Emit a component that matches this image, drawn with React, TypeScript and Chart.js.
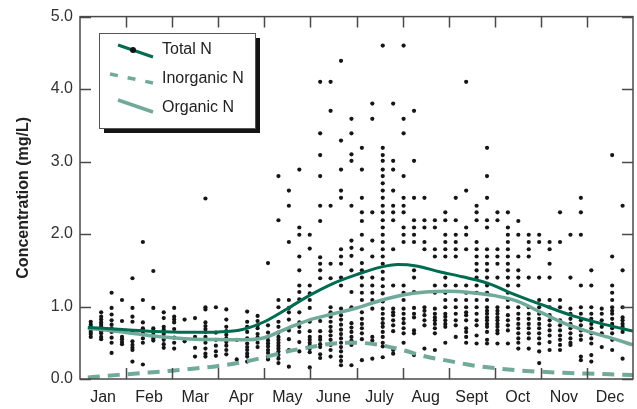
import React, { useEffect, useRef } from "react";
import { Chart, registerables } from "chart.js";

Chart.register(...registerables);

const MONTHS = ["Jan", "Feb", "Mar", "Apr", "May", "June", "July", "Aug", "Sept", "Oct", "Nov", "Dec"];
const Y_TICKS = [0, 1, 2, 3, 4, 5];

// [month position, concentration]
const TOTAL_N: [number, number][] = [
  [0.17, 0.71], [0.5, 0.7], [1, 0.68], [1.5, 0.66], [2, 0.65], [2.5, 0.645], [3, 0.65], [3.5, 0.68],
  [4, 0.79], [4.5, 0.97], [5, 1.16], [5.5, 1.32], [6, 1.44], [6.5, 1.54], [6.9, 1.58], [7.3, 1.56],
  [7.8, 1.48], [8.3, 1.41], [8.9, 1.31], [9.3, 1.2], [10, 1.03], [10.7, 0.87], [11.4, 0.75], [12, 0.66],
];
const INORGANIC_N: [number, number][] = [
  [0.17, 0.02], [0.5, 0.04], [1, 0.065], [1.5, 0.09], [2, 0.115], [2.5, 0.145], [3, 0.18], [3.5, 0.23],
  [4, 0.3], [4.5, 0.38], [5, 0.44], [5.5, 0.49], [6, 0.5], [6.5, 0.47], [7, 0.4], [7.5, 0.31],
  [8, 0.25], [8.5, 0.19], [9, 0.15], [9.5, 0.12], [10, 0.1], [10.5, 0.085], [11, 0.075], [11.5, 0.065], [12, 0.055],
];
const ORGANIC_N: [number, number][] = [
  [0.17, 0.7], [0.5, 0.68], [1, 0.64], [1.5, 0.6], [2, 0.57], [2.5, 0.55], [3, 0.545], [3.5, 0.54],
  [4, 0.57], [4.5, 0.7], [5, 0.82], [5.5, 0.9], [6, 0.98], [6.5, 1.08], [7, 1.16], [7.5, 1.2],
  [8, 1.21], [8.5, 1.19], [9, 1.15], [9.5, 1.07], [10, 0.92], [10.5, 0.77], [11, 0.66], [11.5, 0.57], [12, 0.47],
];

// weekly sampling columns: month position of first week and spacing between weeks
const FIRST_WEEK_MONTH = 0.233;
const WEEK_SPACING_MONTH = 0.2263;

// observed concentrations for each weekly column (mg/L)
const WEEKLY_SAMPLES: number[][] = [
  [0.79, 0.75, 0.72, 0.68, 0.65, 0.62, 0.58],
  [0.92, 0.86, 0.82, 0.78, 0.75, 0.72, 0.7, 0.66, 0.63, 0.58, 0.55],
  [1.19, 0.98, 0.89, 0.81, 0.75, 0.7, 0.65, 0.57, 0.5, 0.36],
  [1.09, 0.8, 0.58, 0.55, 0.51, 0.48],
  [1.39, 0.98, 0.86, 0.79, 0.65, 0.52, 0.47, 0.43, 0.4, 0.24],
  [1.89, 1.09, 0.78, 0.7, 0.67, 0.63, 0.56, 0.5, 0.2],
  [1.49, 0.98, 0.7, 0.67, 0.64, 0.6, 0.56, 0.53],
  [0.92, 0.84, 0.72, 0.68, 0.62, 0.54, 0.48, 0.43],
  [0.98, 0.86, 0.82, 0.78, 0.69, 0.57, 0.5, 0.42],
  [0.82, 0.52],
  [0.84, 0.58, 0.43, 0.31],
  [2.49, 0.99, 0.96, 0.78, 0.73, 0.69, 0.65, 0.58, 0.5, 0.42, 0.35, 0.31],
  [0.99, 0.64, 0.54, 0.46, 0.38, 0.32],
  [0.96, 0.82, 0.72, 0.66, 0.61, 0.56, 0.51, 0.46, 0.4, 0.34],
  [0.54, 0.27],
  [0.93, 0.79, 0.72, 0.65, 0.56, 0.49, 0.44, 0.4, 0.35, 0.31, 0.24],
  [0.87, 0.8, 0.74, 0.7, 0.62, 0.57, 0.5, 0.44],
  [1.6, 0.74, 0.64, 0.58, 0.53, 0.49, 0.45, 0.4, 0.36, 0.31, 0.27],
  [2.8, 2.19, 1.09, 0.99, 0.79, 0.72, 0.64, 0.58, 0.54, 0.5, 0.46, 0.42, 0.38, 0.33, 0.28, 0.22],
  [2.6, 2.39, 1.89, 1.09, 0.98, 0.92, 0.82, 0.67, 0.55, 0.4, 0.17],
  [2.89, 2.09, 1.99, 1.69, 1.5, 1.29, 1.2, 1.1, 0.92, 0.78, 0.72, 0.65, 0.51, 0.38],
  [1.99, 1.8, 1.29, 1.18, 1.09, 0.98, 0.79, 0.66, 0.58, 0.54, 0.5, 0.46, 0.42, 0.37, 0.16],
  [4.1, 3.39, 3.09, 2.8, 2.39, 2.18, 1.68, 1.59, 1.5, 1.39, 0.8, 0.66, 0.58, 0.54, 0.48, 0.44, 0.34, 0.29],
  [4.1, 3.7, 2.39, 1.59, 1.39, 0.99, 0.92, 0.86, 0.79, 0.72, 0.66, 0.6, 0.54, 0.47, 0.4, 0.31],
  [4.39, 3.29, 2.89, 2.6, 2.5, 1.79, 1.69, 1.59, 1.4, 1.29, 0.97, 0.88, 0.82, 0.75, 0.68, 0.62, 0.56, 0.5, 0.44, 0.38, 0.31, 0.25, 0.19],
  [3.59, 3.39, 3.1, 3.01, 2.39, 1.91, 1.81, 1.7, 1.5, 1.2, 0.99, 0.77, 0.71, 0.65, 0.58, 0.53, 0.47, 0.19],
  [3.19, 2.89, 2.5, 2.3, 2.18, 1.99, 1.79, 1.6, 1.5, 1.4, 1.29, 1.19, 1.09, 0.92, 0.83, 0.76, 0.7, 0.63, 0.55, 0.26],
  [3.8, 3.59, 2.3, 1.91, 1.69, 1.4, 1.29, 1.19, 1.09, 0.97, 0.58, 0.53, 0.28],
  [4.6, 3.19, 3.09, 3.01, 2.89, 2.8, 2.7, 2.6, 2.5, 2.39, 2.3, 2.19, 2.09, 1.99, 1.89, 1.79, 1.69, 1.59, 1.48, 1.38, 1.28, 1.18, 1.07, 0.97, 0.9, 0.83, 0.77, 0.72, 0.65, 0.58, 0.5, 0.45, 0.3],
  [3.8, 3.01, 2.89, 2.6, 2.39, 2.3, 2.19, 1.79, 1.29, 0.97, 0.92, 0.88, 0.81, 0.74, 0.66, 0.4, 0.35],
  [4.6, 3.59, 3.39, 2.8, 2.5, 2.39, 2.3, 2.09, 1.99, 1.89, 1.29, 1.19, 1.09, 0.97, 0.9, 0.83, 0.77, 0.7, 0.63, 0.5],
  [3.7, 3.01, 2.5, 2.19, 2.09, 1.99, 1.89, 1.5, 1.4, 1.2, 0.98, 0.9, 0.85, 0.67, 0.63, 0.33],
  [2.5, 2.19, 2.09, 1.89, 1.79, 0.99, 0.94, 0.88, 0.81, 0.74, 0.42],
  [2.19, 2.09, 1.79, 1.69, 1.29, 1.19, 0.97, 0.9, 0.85, 0.81, 0.76, 0.7, 0.63, 0.4],
  [2.3, 2.19, 1.99, 1.89, 1.79, 1.69, 1.4, 1.29, 1.19, 1.09, 0.99, 0.9, 0.86, 0.81, 0.76, 0.72, 0.5],
  [2.5, 2.19, 1.99, 1.89, 1.79, 1.69, 1.29, 1.09, 0.99, 0.9, 0.81, 0.74, 0.58],
  [4.1, 2.6, 2.09, 1.99, 1.79, 1.29, 1.19, 1.09, 0.99, 0.92, 0.88, 0.81, 0.7, 0.65, 0.58, 0.5],
  [2.39, 2.3, 2.19, 1.89, 1.79, 1.69, 1.59, 1.5, 1.4, 1.29, 1.19, 1.09, 0.99, 0.9, 0.81, 0.74, 0.6, 0.49],
  [3.19, 2.8, 2.5, 2.19, 2.09, 1.79, 1.69, 1.59, 1.5, 1.4, 1.29, 1.19, 1.09, 0.99, 0.94, 0.9, 0.85, 0.81, 0.76, 0.72, 0.65, 0.54, 0.49],
  [2.3, 2.19, 1.79, 1.69, 1.59, 1.4, 0.99, 0.94, 0.9, 0.85, 0.81, 0.76, 0.72, 0.67, 0.63, 0.49],
  [2.3, 2.09, 1.99, 1.89, 1.79, 1.69, 1.59, 1.5, 1.4, 1.29, 1.19, 1.09, 0.99, 0.88, 0.81, 0.74, 0.67, 0.49],
  [2.18, 1.99, 1.69, 1.5, 1.4, 1.29, 0.99, 0.9, 0.83, 0.76, 0.7, 0.63, 0.56, 0.5, 0.42],
  [1.99, 1.89, 1.79, 1.69, 1.4, 0.99, 0.9, 0.83, 0.76, 0.7, 0.63, 0.56, 0.42],
  [1.99, 1.89, 1.4, 1.09, 0.99, 0.9, 0.83, 0.76, 0.7, 0.63, 0.56, 0.49, 0.38, 0.22],
  [1.89, 1.79, 1.59, 1.4, 1.09, 0.99, 0.88, 0.81, 0.74, 0.67, 0.6, 0.51, 0.4],
  [2.3, 1.89, 1.09, 0.99, 0.81, 0.74, 0.67, 0.6, 0.54, 0.47, 0.4],
  [1.99, 1.4, 0.97, 0.9, 0.83, 0.76, 0.7, 0.63, 0.56, 0.5, 0.47],
  [2.5, 2.3, 1.99, 1.29, 0.99, 0.9, 0.81, 0.74, 0.67, 0.6, 0.54, 0.31, 0.26],
  [1.5, 1.29, 0.99, 0.9, 0.83, 0.76, 0.7, 0.63, 0.56, 0.49, 0.33, 0.24],
  [0.97, 0.9, 0.81, 0.72, 0.63, 0.44],
  [3.09, 1.69, 1.29, 1.19, 1.09, 0.99, 0.94, 0.9, 0.83, 0.76, 0.7, 0.63, 0.54, 0.4],
  [2.39, 1.5, 0.99, 0.85, 0.81, 0.76, 0.72, 0.65, 0.28],
];

const LEGEND_LABELS = ["Total N", "Inorganic N", "Organic N"];

const DARK_GREEN = "#006b50";
const LIGHT_GREEN = "#71a99a";
const FONT = "'Liberation Sans', Arial, Helvetica, sans-serif";

const toPoints = (arr: [number, number][]) => arr.map(([x, y]) => ({ x, y }));

const framePlugin = {
  id: "frameTicks",
  afterDatasetsDraw(chart: any) {
    const { ctx, chartArea, scales } = chart;
    const { left, right, top, bottom } = chartArea;
    const x = scales.x;
    const y = scales.y;
    const TL = 11;
    ctx.save();
    ctx.strokeStyle = "#4a4a4a";
    ctx.lineWidth = 1.5;
    ctx.strokeRect(left, top, right - left, bottom - top);
    ctx.beginPath();
    for (let m = 1; m < 12; m++) {
      const px = Math.round(x.getPixelForValue(m)) + 0.5;
      ctx.moveTo(px, bottom);
      ctx.lineTo(px, bottom - TL);
      ctx.moveTo(px, top);
      ctx.lineTo(px, top + TL);
    }
    for (const v of Y_TICKS) {
      const py = Math.round(y.getPixelForValue(v)) + 0.5;
      ctx.moveTo(left, py);
      ctx.lineTo(left + TL, py);
      ctx.moveTo(right, py);
      ctx.lineTo(right - TL, py);
    }
    ctx.stroke();
    ctx.restore();
  },
};

const legendPlugin = {
  id: "boxLegend",
  afterDraw(chart: any) {
    const { ctx } = chart;
    const bx = 99, by = 33, bw = 156, bh = 95;
    ctx.save();
    ctx.fillStyle = "#151515";
    ctx.fillRect(bx + 5, by + 5, bw, bh);
    ctx.fillStyle = "#ffffff";
    ctx.fillRect(bx, by, bw, bh);
    ctx.strokeStyle = "#555";
    ctx.lineWidth = 1;
    ctx.strokeRect(bx + 0.5, by + 0.5, bw, bh);

    // Total N sample
    ctx.strokeStyle = DARK_GREEN;
    ctx.lineWidth = 3;
    ctx.beginPath();
    ctx.moveTo(118, 45);
    ctx.lineTo(153, 57);
    ctx.stroke();
    ctx.fillStyle = "#111";
    ctx.beginPath();
    ctx.arc(133, 50, 3, 0, Math.PI * 2);
    ctx.fill();

    // Inorganic N sample
    ctx.strokeStyle = LIGHT_GREEN;
    ctx.lineWidth = 3.5;
    ctx.setLineDash([8, 10]);
    ctx.beginPath();
    ctx.moveTo(110, 74);
    ctx.lineTo(153, 83);
    ctx.stroke();
    ctx.setLineDash([]);

    // Organic N sample
    ctx.lineWidth = 3.5;
    ctx.beginPath();
    ctx.moveTo(118, 100);
    ctx.lineTo(153, 112);
    ctx.stroke();

    ctx.fillStyle = "#222";
    ctx.font = `16px ${FONT}`;
    ctx.textBaseline = "middle";
    ctx.textAlign = "left";
    const rows = [50, 79, 108];
    LEGEND_LABELS.forEach((t, i) => ctx.fillText(t, 162, rows[i]));
    ctx.restore();
  },
};

export default function App() {
  const canvasRef = useRef<HTMLCanvasElement | null>(null);

  useEffect(() => {
    document.body.style.margin = "0";
    const canvas = canvasRef.current;
    if (!canvas) return;

    const scatterPoints: { x: number; y: number }[] = [];
    WEEKLY_SAMPLES.forEach((vals, w) => {
      const xm = FIRST_WEEK_MONTH + w * WEEK_SPACING_MONTH;
      vals.forEach((v) => scatterPoints.push({ x: xm, y: v }));
    });

    const lineCommon = {
      showLine: true,
      pointRadius: 0,
      cubicInterpolationMode: "monotone",
    };

    const chart = new Chart(canvas, {
      type: "scatter",
      data: {
        datasets: [
          {
            ...lineCommon,
            label: "Total N",
            data: toPoints(TOTAL_N),
            borderColor: DARK_GREEN,
            borderWidth: 3,
            order: 0,
          } as any,
          {
            ...lineCommon,
            label: "Organic N",
            data: toPoints(ORGANIC_N),
            borderColor: LIGHT_GREEN,
            borderWidth: 3.5,
            order: 1,
          },
          {
            ...lineCommon,
            label: "Inorganic N",
            data: toPoints(INORGANIC_N),
            borderColor: LIGHT_GREEN,
            borderWidth: 4,
            borderDash: [12, 8],
            order: 2,
          },
          {
            label: "Samples",
            data: scatterPoints,
            showLine: false,
            pointRadius: 2.1,
            pointBorderWidth: 0,
            pointBackgroundColor: "#151515",
            pointBorderColor: "#151515",
            order: 10,
          },
        ],
      },
      options: {
        animation: false,
        responsive: false,
        maintainAspectRatio: false,
        devicePixelRatio: 1,
        layout: { padding: { top: 15, right: 4, left: 0, bottom: 0 } },
        plugins: {
          legend: { display: false },
          tooltip: { enabled: false },
        },
        scales: {
          x: {
            type: "linear",
            min: 0,
            max: 12,
            grid: { display: false, drawTicks: false },
            border: { display: false },
            afterBuildTicks: (scale: any) => {
              scale.ticks = MONTHS.map((_, i) => ({ value: i + 0.5 }));
            },
            afterFit: (scale: any) => {
              scale.height = 30;
            },
            ticks: {
              autoSkip: false,
              maxRotation: 0,
              padding: 9,
              color: "#222",
              font: { family: FONT, size: 16 },
              callback: (_v: any, i: number) => MONTHS[i],
            },
          },
          y: {
            type: "linear",
            min: 0,
            max: 5,
            grid: { display: false, drawTicks: false },
            border: { display: false },
            afterFit: (scale: any) => {
              scale.width = 80;
            },
            ticks: {
              stepSize: 1,
              padding: 7,
              color: "#333",
              font: { family: FONT, size: 16 },
              callback: (v: any) => Number(v).toFixed(1),
            },
            title: {
              display: true,
              text: "Concentration (mg/L)",
              color: "#222",
              font: { family: FONT, size: 16, weight: "bold" },
              padding: { top: 14, bottom: 0 },
            },
          },
        },
      },
      plugins: [framePlugin, legendPlugin],
    });

    return () => chart.destroy();
  }, []);

  return (
    <div style={{ width: 637, height: 409 }}>
      <canvas ref={canvasRef} width={637} height={409} style={{ display: "block" }} />
    </div>
  );
}
